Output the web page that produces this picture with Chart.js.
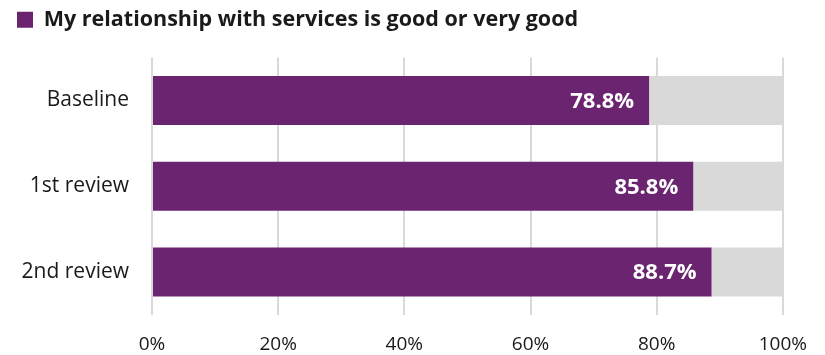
<!DOCTYPE html>
<html>
<head>
<meta charset="utf-8">
<script src="https://cdn.jsdelivr.net/npm/chart.js@4"></script>
<style>
  html, body { margin: 0; padding: 0; background: #fff; }
  #wrap { width: 825px; height: 355px; position: relative; }
</style>
</head>
<body>
<div id="wrap"><canvas id="chart"></canvas></div>
<script>
const categories = ['Baseline', '1st review', '2nd review'];
const goodValues = [78.8, 85.8, 88.7];
const restValues = goodValues.map(v => +(100 - v).toFixed(1));
const tickLabels = ['0%', '20%', '40%', '60%', '80%', '100%'];
const seriesLabel = 'My relationship with services is good or very good';

const purple = '#6b2570';
const grey = '#d9d9d9';
const fontFamily = '"Open Sans", sans-serif';

// white value labels at the inner end of each purple bar
const valueLabels = {
  id: 'valueLabels',
  afterDatasetsDraw(chart) {
    const ctx = chart.ctx;
    const meta = chart.getDatasetMeta(0);
    ctx.save();
    ctx.fillStyle = '#fff';
    ctx.font = 'bold 22px ' + fontFamily;
    ctx.textAlign = 'right';
    ctx.textBaseline = 'middle';
    meta.data.forEach((bar, i) => {
      ctx.fillText(goodValues[i].toFixed(1) + '%', bar.x - 15, bar.y + 1);
    });
    ctx.restore();
  }
};

// extra space under the legend
const legendGap = {
  id: 'legendGap',
  beforeInit(chart) {
    const fit = chart.legend.fit;
    chart.legend.fit = function () {
      fit.bind(chart.legend)();
      this.height += 17;
    };
  }
};

new Chart(document.getElementById('chart'), {
  type: 'bar',
  data: {
    labels: categories,
    datasets: [
      {
        label: seriesLabel,
        data: goodValues,
        backgroundColor: purple,
        categoryPercentage: 0.57,
        barPercentage: 1,
      },
      {
        label: 'rest',
        data: restValues,
        backgroundColor: grey,
        categoryPercentage: 0.57,
        barPercentage: 1,
      },
    ],
  },
  options: {
    indexAxis: 'y',
    responsive: true,
    maintainAspectRatio: false,
    animation: false,
    layout: { padding: { left: 8, right: 42, top: 0, bottom: 0 } },
    scales: {
      x: {
        stacked: true,
        min: 0,
        max: 100,
        afterFit(axis) { axis.height = 40; },
        ticks: {
          stepSize: 20,
          color: '#1a1a1a',
          font: { family: fontFamily, size: 19 },
          padding: 18,
          callback: (v, i) => tickLabels[i],
        },
        grid: { color: grey, lineWidth: 2, drawTicks: false },
        border: { display: false },
      },
      y: {
        stacked: true,
        afterFit(axis) { axis.width = 144; },
        ticks: {
          color: '#1a1a1a',
          font: { family: fontFamily, size: 21 },
          padding: 23,
        },
        grid: { display: false, drawTicks: false },
        border: { display: false },
      },
    },
    plugins: {
      legend: {
        position: 'top',
        align: 'start',
        labels: {
          filter: item => item.datasetIndex === 0,
          color: '#1a1a1a',
          boxWidth: 16,
          boxHeight: 16,
          padding: 9,
          font: { family: fontFamily, size: 21.5, weight: 'bold' },
        },
      },
      tooltip: { enabled: false },
    },
  },
  plugins: [valueLabels, legendGap],
});
</script>
</body>
</html>
